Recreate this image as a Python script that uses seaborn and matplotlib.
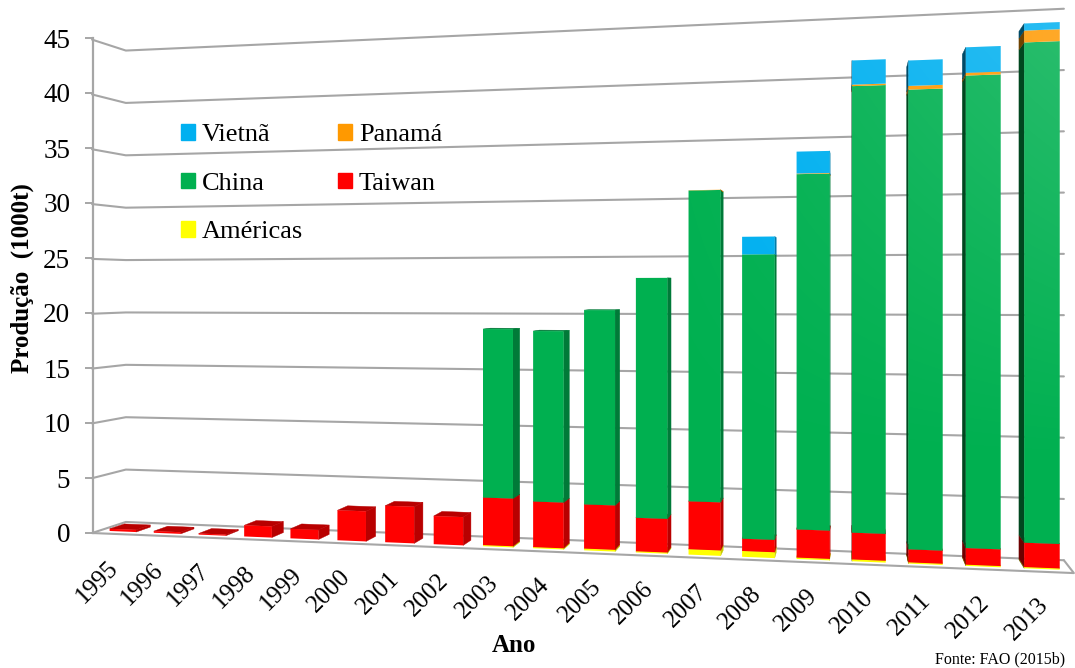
import numpy as np
import seaborn as sns
import matplotlib.pyplot as plt
import matplotlib.transforms as mtransforms
from matplotlib.patches import Patch, Polygon, PathPatch
from matplotlib.path import Path

# values, in 1000 t
anos = [str(a) for a in range(1995, 2014)]
americas = [0, 0, 0, 0, 0, 0, 0, 0, 0.1, 0.1, 0.15, 0.1, 0.45, 0.48, 0.12, 0.15, 0.1, 0.1, 0.1]
taiwan = [0.2, 0.15, 0.1, 1.0, 0.85, 2.65, 3.2, 2.45, 4.1, 3.9, 3.75, 2.82, 4.0, 1.02, 2.31, 2.18, 1.05, 1.33, 1.93]
china = [0, 0, 0, 0, 0, 0, 0, 0, 14.55, 14.6, 16.5, 20.2, 25.96, 23.54, 29.17, 36.35, 37.1, 37.8, 39.67]
panama = [0, 0, 0, 0, 0, 0, 0, 0, 0, 0, 0, 0, 0.02, 0, 0.05, 0.12, 0.3, 0.22, 0.94]
vietna = [0, 0, 0, 0, 0, 0, 0, 0, 0, 0, 0, 0, 0, 1.46, 1.8, 1.97, 2.05, 2.04, 0.56]

nomes = ['Américas', 'Taiwan', 'China', 'Panamá', 'Vietnã']
series = [americas, taiwan, china, panama, vietna]
cores = ['#FFFF00', '#FF0000', '#00B050', '#FF9900', '#00B0F0']
cores_dir = ['#C8C800', '#B80000', '#007A38', '#B86E00', '#007CAA']
cores_esq = ['#6E6E00', '#6E0000', '#00471F', '#6E4200', '#004A66']

W, H = 1075, 668
VP = (850.0, 285.0)   # vanishing point of the depth lines
PROF_BARRA = 0.98
PROF_BARRA_ESQ = 0.97
PROF_FUNDO = 0.965
PROF_FRENTE = 1.01
U_ESQ, U_DIR = -0.53, 18.5
cinza = '#A6A6A6'


def projeta(u, v, s=1.0):
    # category position + value -> picture pixels (y down)
    u, v = np.asarray(u, float), np.asarray(v, float)
    w = 1 - 0.00766 * u
    x = (122.8 + 43.08 * u) / w
    y = 526.5 + 0.0408 * x - 10.9 * v / w
    return VP[0] + (x - VP[0]) * s, VP[1] + (y - VP[1]) * s


class Plano(mtransforms.Transform):
    input_dims = 2
    output_dims = 2
    is_separable = False

    def __init__(self, s=1.0):
        super().__init__()
        self.s = s

    def transform_non_affine(self, values):
        values = np.asarray(values, float)
        x, y = projeta(values[:, 0], values[:, 1], self.s)
        return np.column_stack([x, H - y])


def tela(x, y):
    return np.column_stack([np.atleast_1d(x), H - np.atleast_1d(y)])


def face(pontos, cor, z):
    xy = np.vstack([tela(*projeta(u, v, s)) for u, v, s in pontos])
    ax.add_patch(Polygon(xy, closed=True, facecolor=cor, edgecolor=cor, linewidth=0.3,
                         transform=mtransforms.IdentityTransform(), zorder=z, clip_on=False))


def linha(pontos):
    xy = np.vstack([tela(*projeta(u, v, s)) for u, v, s in pontos])
    ax.plot(xy[:, 0], xy[:, 1], color=cinza, lw=1.5, zorder=1, clip_on=False,
            transform=mtransforms.IdentityTransform())


sns.set_theme(style='white')
plt.rcParams['font.family'] = ['Liberation Serif', 'DejaVu Serif']

fig = plt.figure(figsize=(W / 100, H / 100), dpi=100)
ax = fig.add_axes([92.5 / W, (H - 533) / H, 1 / W, 495 / H])
ax.patch.set_alpha(0)

# walls and floor
for v in range(0, 50, 5):
    linha([(U_ESQ, v, PROF_FRENTE), (U_ESQ, v, PROF_FUNDO), (U_DIR, v, PROF_FUNDO)])
linha([(U_ESQ, 0, PROF_FRENTE), (U_DIR, 0, PROF_FRENTE), (U_DIR, 0, PROF_FUNDO)])

# stacked bars, each series once through seaborn
plano = Plano()
base = np.zeros(len(anos))
frentes = []
for nome, valores, cor, dir_, esq in zip(nomes, series, cores, cores_dir, cores_esq):
    n = len(ax.patches)
    sns.barplot(x=anos, y=valores, bottom=base, color=cor, saturation=1, width=0.6,
                errorbar=None, ax=ax)
    novas = [p for p in ax.patches[n:]][:len(anos)]
    for barra in novas:
        barra.set_transform(plano)
        barra.set_clip_on(False)
        barra.set_linewidth(0)
        barra.set_zorder(3)
        u0, u1 = barra.get_x(), barra.get_x() + barra.get_width()
        v0, v1 = barra.get_y(), barra.get_y() + barra.get_height()
        if v1 <= v0:
            continue
        frentes.append(barra)
        if projeta(u1, 0)[0] < VP[0]:
            face([(u1, v0, 1), (u1, v1, 1), (u1, v1, PROF_BARRA), (u1, v0, PROF_BARRA)], dir_, 2)
        elif projeta(u0, 0)[0] > VP[0]:
            face([(u0, v0, 1), (u0, v1, 1), (u0, v1, PROF_BARRA_ESQ), (u0, v0, PROF_BARRA_ESQ)], esq, 2)
        if projeta(u0, v1)[1] > VP[1]:
            face([(u0, v1, 1), (u1, v1, 1), (u1, v1, PROF_BARRA), (u0, v1, PROF_BARRA)], dir_, 2)
    base = base + np.array(valores)

# the light that brightens the upper right bars
xx, yy = np.meshgrid(np.arange(0, W, 5), np.arange(0, H, 5))
brilho = np.clip((xx - 620) / 440, 0, 1) * np.clip((470 - yy) / 430, 0, 1) * 0.16
rgba = np.ones(xx.shape + (4,))
rgba[..., 3] = brilho
pix = mtransforms.Affine2D().scale(1, -1).translate(0, H)
img = ax.imshow(rgba, extent=(0, W, H, 0), origin='upper', aspect='auto', transform=pix,
                zorder=4, interpolation='bilinear')
caminhos = [p.get_path().transformed(p.get_transform()) for p in frentes]
img.set_clip_box(fig.bbox)
img.set_clip_path(PathPatch(Path.make_compound_path(*caminhos), transform=mtransforms.IdentityTransform()))

# y axis is the real one, x labels follow the sloped front edge
ax.set_xlim(0, 1)
ax.set_ylim(0, 45)
ax.set_yticks(range(0, 50, 5))
ax.set_xticks([])
ax.set_xlabel('')
ax.set_ylabel('')
sns.despine(ax=ax, bottom=True)
ax.spines['left'].set_color(cinza)
ax.spines['left'].set_linewidth(1.6)
ax.tick_params(axis='y', left=True, length=6, width=1.4, color=cinza, pad=10, labelsize=19.5,
               labelcolor='black')

for i, ano in enumerate(anos):
    ax.annotate(ano, xy=(i, 0), xycoords=plano, xytext=(-15.5 + 0.6 * i, -25), textcoords='offset pixels',
                rotation=45, rotation_mode='anchor', ha='right', va='top', fontsize=18,
                color='black', annotation_clip=False)

fig.text(22 / W, 1 - 278 / H, 'Produção  (1000t)', rotation=90, ha='center', va='center',
         fontsize=18, fontweight='bold', color='black')
fig.text(514 / W, 1 - 645 / H, 'Ano', ha='center', va='center', fontsize=18, fontweight='bold', color='black')
fig.text(1065 / W, 1 - 659 / H, 'Fonte: FAO (2015b)', ha='right', va='center', fontsize=11.5, color='black')

entradas = [Patch(color=cores[4], label='Vietnã'), Patch(color=cores[2], label='China'),
            Patch(color=cores[0], label='Américas'), Patch(color=cores[3], label='Panamá'),
            Patch(color=cores[1], label='Taiwan')]
ax.legend(handles=entradas, ncol=2, loc='upper left', bbox_to_anchor=(181, H - 124),
          bbox_transform=mtransforms.IdentityTransform(), frameon=False, borderpad=0, borderaxespad=0,
          fontsize=19, handlelength=0.53, handleheight=0.53, handletextpad=0.25, columnspacing=1.35,
          labelspacing=1.0, labelcolor='black')

fig.savefig('out.png', dpi=100)
